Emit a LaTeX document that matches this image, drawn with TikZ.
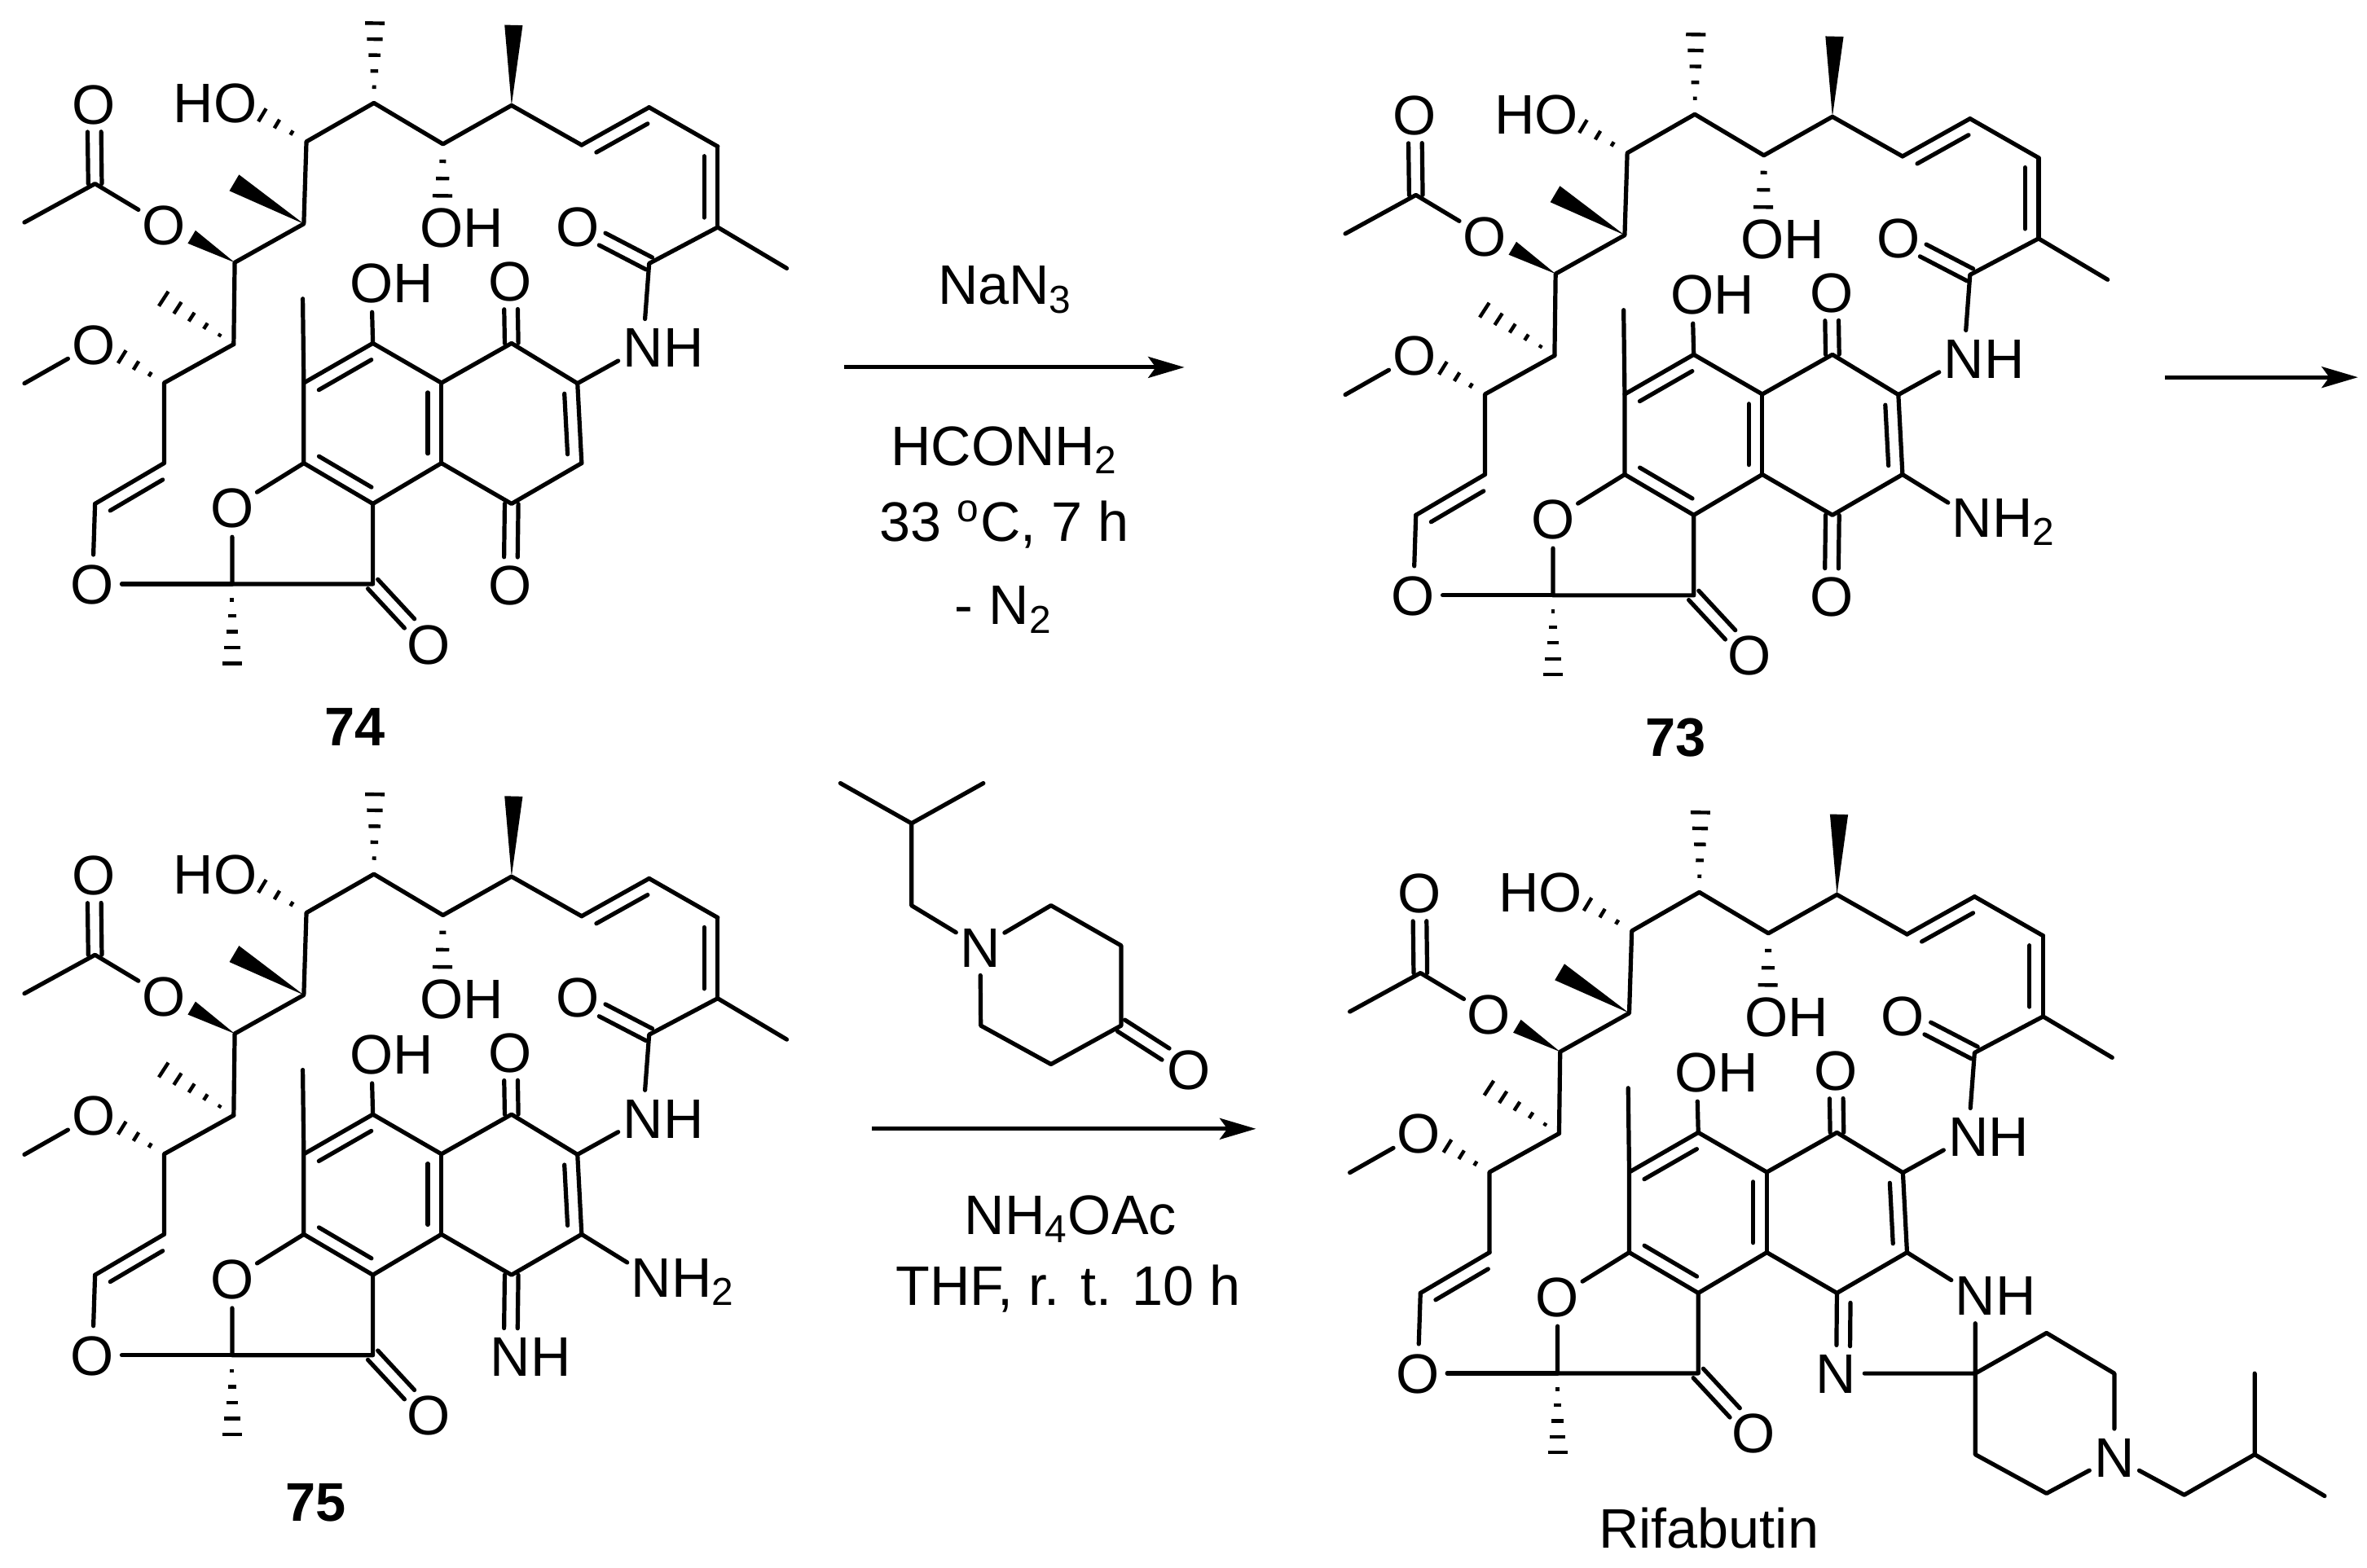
\documentclass[tikz,border=0pt]{standalone}
\usepackage{fontspec}
\setmainfont{Liberation Sans}
\usetikzlibrary{calc,arrows.meta}
\tikzset{
  bond/.style={line width=1.6pt,line cap=round,line join=round},
  hashl/.style={line width=1.35pt},
  atom/.style={circle,inner sep=0pt,outer sep=0pt,font=\fontsize{21}{24}\selectfont,text height=15pt,text depth=0pt},
  lab/.style={inner sep=0pt,outer sep=0pt,font=\fontsize{21}{24}\selectfont,text height=15pt,text depth=0pt},
  txt/.style={inner sep=0pt,outer sep=0pt,font=\fontsize{21}{24}\selectfont},
  bold/.style={inner sep=0pt,font=\fontsize{20.5}{24}\selectfont\bfseries},
  rxn/.style={line width=1.5pt,-{Stealth[length=.48cm,width=.28cm,inset=.1cm]}},
  molunits/.style={x=0.006884cm,y=-0.006404cm}
}
% plain double bond: inner line on side #3 (90 or -90)
\newcommand\dbl[3]{\draw[bond] (#1) -- (#2);
  \draw[bond] ($(#1)!.12!(#2)!.18cm!#3:(#2)$) -- ($(#1)!.88!(#2)!.18cm!#3:(#2)$);}
% symmetric double bond to a hetero atom
\newcommand\dbs[2]{\draw[bond,shorten >=.37cm] ($(#1)!.09cm!90:(#2)$) -- ($(#2)!.09cm!-90:(#1)$);
  \draw[bond,shorten >=.37cm] ($(#1)!.09cm!-90:(#2)$) -- ($(#2)!.09cm!90:(#1)$);}
\newcommand\sgl[1]{\draw[bond] #1;}
% hashed wedge
\newcommand\hashb[4]{\foreach \i in {1,...,#3}{\pgfmathsetmacro\hT{\i/#3}\pgfmathsetmacro\hW{#4*\hT}
  \draw[hashl] ($(#1)!\hT!(#2)!\hW cm!90:(#1)$) -- ($(#1)!\hT!(#2)!\hW cm!-90:(#1)$);}}
% solid wedge
\newcommand\wedgeb[3]{\fill ($(#1)!.0!(#2)$) -- ($(#2)!#3!90:(#1)$) -- ($(#2)!#3!-90:(#1)$) -- cycle;}
% common skeleton
\newcommand\core{
  \foreach \n/\x/\y in {me1/47/460,ac/183/380,c1/452/543,c2/585/463,c3/590/293,c4/720/213,c5/853/298,c6/985/218,
    c7/1120/300,c8/1250/222,c9/1382/303,c10/1382/470,me10/1515/555,c11/1250/545,c12/1112/793,c13/985/710,
    c14/1120/958,c15/985/1042,c16/850/958,c17/850/792,c18/718/710,c19/585/792,me19/583/618,c20/585/958,c21/718/1042,
    c22/447/1208,c23/718/1208,c24/183/1042,c25/316/958,c26/316/792,c27/450/712,me2/47/793,
    w1/369/490,w2/451/378,w3/989/52,h1/505/238,h2/722/48,h3/852/405,h4/447/1372,h5/235/738,h6/315/618}
    {\coordinate (\n) at (\x,\y);}
  \node[atom] (oa) at (181,215) {O};
  \node[atom] (oe) at (315,465) {O};
  \node[atom] (ohb) at (453,213) {O};
  \node[lab,anchor=east] (hhb) at ([xshift=-8.1pt]ohb.center) {H};
  \node[atom] (oha) at (850,470) {O};
  \node[lab,anchor=west] (hha) at ([xshift=8.1pt]oha.center) {H};
  \node[atom] (oam) at (1112,468) {O};
  \node[atom] (nam) at (1238,718) {N};
  \node[lab,anchor=west] (ham) at ([xshift=7.7pt]nam.center) {H};
  \node[atom] (ohp) at (715,585) {O};
  \node[lab,anchor=west] (hhp) at ([xshift=8.1pt]ohp.center) {H};
  \node[atom] (ok) at (983,582) {O};
  \node[atom] (ol) at (825,1332) {O};
  \node[atom] (of) at (447,1050) {O};
  \node[atom] (ov) at (178,1208) {O};
  \node[atom] (om) at (180,712) {O};
  \dbs{ac}{oa}
  \sgl{(me1) -- (ac) -- (oe)}
  \wedgeb{c1}{w1}{.1cm}
  \sgl{(c27) -- (c1) -- (c2) -- (c3) -- (c4) -- (c5) -- (c6) -- (c7)}
  \wedgeb{c2}{w2}{.125cm}
  \wedgeb{c6}{w3}{.12cm}
  \hashb{c3}{h1}{3}{.1}
  \hashb{c4}{h2}{5}{.13}
  \hashb{c5}{h3}{3}{.13}
  \hashb{c22}{h4}{5}{.13}
  \hashb{c26}{h5}{3}{.1}
  \hashb{c27}{h6}{5}{.115}
  \dbl{c7}{c8}{-90}
  \sgl{(c8) -- (c9)}
  \dbl{c9}{c10}{-90}
  \sgl{(me10) -- (c10) -- (c11) -- (nam) -- (c12) -- (c13) -- (c17)}
  \dbs{c11}{oam}
  \dbs{c13}{ok}
  \dbl{c12}{c14}{-90}
  \sgl{(c14) -- (c15) -- (c16) -- (c21)}
  \dbl{c16}{c17}{90}
  \sgl{(c17) -- (c18) -- (ohp)}
  \dbl{c18}{c19}{90}
  \sgl{(me19) -- (c19) -- (c20) -- (of) -- (c22) -- (c23) -- (c21)}
  \dbl{c20}{c21}{90}
  \dbs{c23}{ol}
  \sgl{(ov) -- (c22)}
  \sgl{(ov) -- (c24)}
  \dbl{c24}{c25}{-90}
  \sgl{(c25) -- (c26) -- (c27)}
  \sgl{(me2) -- (om)}
}
\begin{document}
\begin{tikzpicture}[x=.02cm,y=-.02cm]
\useasboundingbox (0,0) rectangle (1568,1038.5);
% 74
\begin{scope}[name prefix=a-,molunits]
  \core
  \node[atom] (oq) at (983,1210) {O};
  \dbs{c15}{oq}
\end{scope}
% 73
\begin{scope}[name prefix=b-,shift={(875,7.5)},molunits]
  \core
  \node[atom] (oq) at (983,1210) {O};
  \dbs{c15}{oq}
  \node[atom] (nn) at (1254,1047) {N};
  \node[lab,anchor=west] (nh) at ([xshift=7.7pt]nn.center) {H\textsubscript{2}};
  \sgl{(c14) -- (nn)}
\end{scope}
% 75
\begin{scope}[name prefix=c-,shift={(0,511)},molunits]
  \core
  \node[atom] (nq) at (983,1210) {N};
  \node[lab,anchor=west] (hq) at ([xshift=7.7pt]nq.center) {H};
  \dbs{c15}{nq}
  \node[atom] (nn) at (1254,1047) {N};
  \node[lab,anchor=west] (nh) at ([xshift=7.7pt]nn.center) {H\textsubscript{2}};
  \sgl{(c14) -- (nn)}
\end{scope}
% Rifabutin
\begin{scope}[name prefix=d-,shift={(878,523)},molunits]
  \core
\end{scope}
\begin{scope}[name prefix=d-]
  \node[atom] (nq) at (1216.4,910.1) {N};
  \draw[bond] (c15) -- (nq);
  \draw[bond] ($(c15)!.12!(nq)!.18cm!90:(nq)$) -- ($(c15)!.66!(nq)!.18cm!90:(nq)$);
  \node[atom] (nh) at (1308.5,858.2) {N};
  \node[lab,anchor=west] (hh) at ([xshift=7.7pt]nh.center) {H};
  \coordinate (sp) at (1308.5,910.1);
  \coordinate (r1) at (1355.7,883.3);
  \coordinate (r2) at (1400.6,910.1);
  \node[atom] (n2) at (1400.6,965.5) {N};
  \coordinate (r3) at (1355.7,989.6);
  \coordinate (r4) at (1308.5,963.8);
  \coordinate (ch2) at (1446.9,990.6);
  \coordinate (ch) at (1493.6,963.8);
  \coordinate (me3) at (1493.6,910.1);
  \coordinate (me4) at (1539.9,991.3);
  \sgl{(c14) -- (nh) -- (sp) -- (r1) -- (r2) -- (n2) -- (r3) -- (r4) -- (sp) -- (nq)}
  \sgl{(n2) -- (ch2) -- (ch) -- (me3)}
  \sgl{(ch) -- (me4)}
\end{scope}
% compound labels
\node[bold] (l74) at (235,482) {74};
\node[bold] (l73) at (1110,489) {73};
\node[bold] (l75) at (209,996) {75};
\node[txt] (lr) at (1132,1012.4) {Rifabutin};
% reactions
\coordinate (a1s) at (559.4,243.4); \coordinate (a1e) at (784.6,243.4);
\coordinate (a2s) at (1434,250); \coordinate (a2e) at (1562,250);
\coordinate (a3s) at (577.6,748); \coordinate (a3e) at (832,748);
\draw[rxn] (a1s) -- (a1e);
\draw[rxn] (a2s) -- (a2e);
\draw[rxn] (a3s) -- (a3e);
\node[txt] (t1) at (665.8,192) {NaN\textsubscript{3}};
\node[txt] (t2) at (665.4,298.5) {HCONH\textsubscript{2}};
\node[txt] (t3) at (665.4,347.5) {33 \textsuperscript{o}C, 7 h};
\node[txt] (t4) at (664.8,404) {- N\textsubscript{2}};
\node[txt] (t5) at (709.2,808) {NH\textsubscript{4}OAc};
\node[txt] (t6) at (707.6,854) {THF, r. t. 10 h};
% reagent
\begin{scope}[name prefix=r-]
  \coordinate (m1) at (556.7,519);
  \coordinate (ch) at (603.8,545.6);
  \coordinate (m2) at (651.4,519);
  \coordinate (ch2) at (603.8,600);
  \node[atom] (n) at (649.3,627.6) {N};
  \coordinate (p1) at (696.2,600);
  \coordinate (p2) at (742.7,626.6);
  \coordinate (p3) at (742.7,679.6);
  \coordinate (p4) at (696.2,705.2);
  \coordinate (p5) at (649.7,679.6);
  \node[atom] (o) at (787.7,708.5) {O};
  \sgl{(m1) -- (ch) -- (m2)}
  \sgl{(ch) -- (ch2) -- (n) -- (p1) -- (p2) -- (p3) -- (p4) -- (p5) -- (n)}
  \dbs{p3}{o}
\end{scope}
\end{tikzpicture}
\end{document}
